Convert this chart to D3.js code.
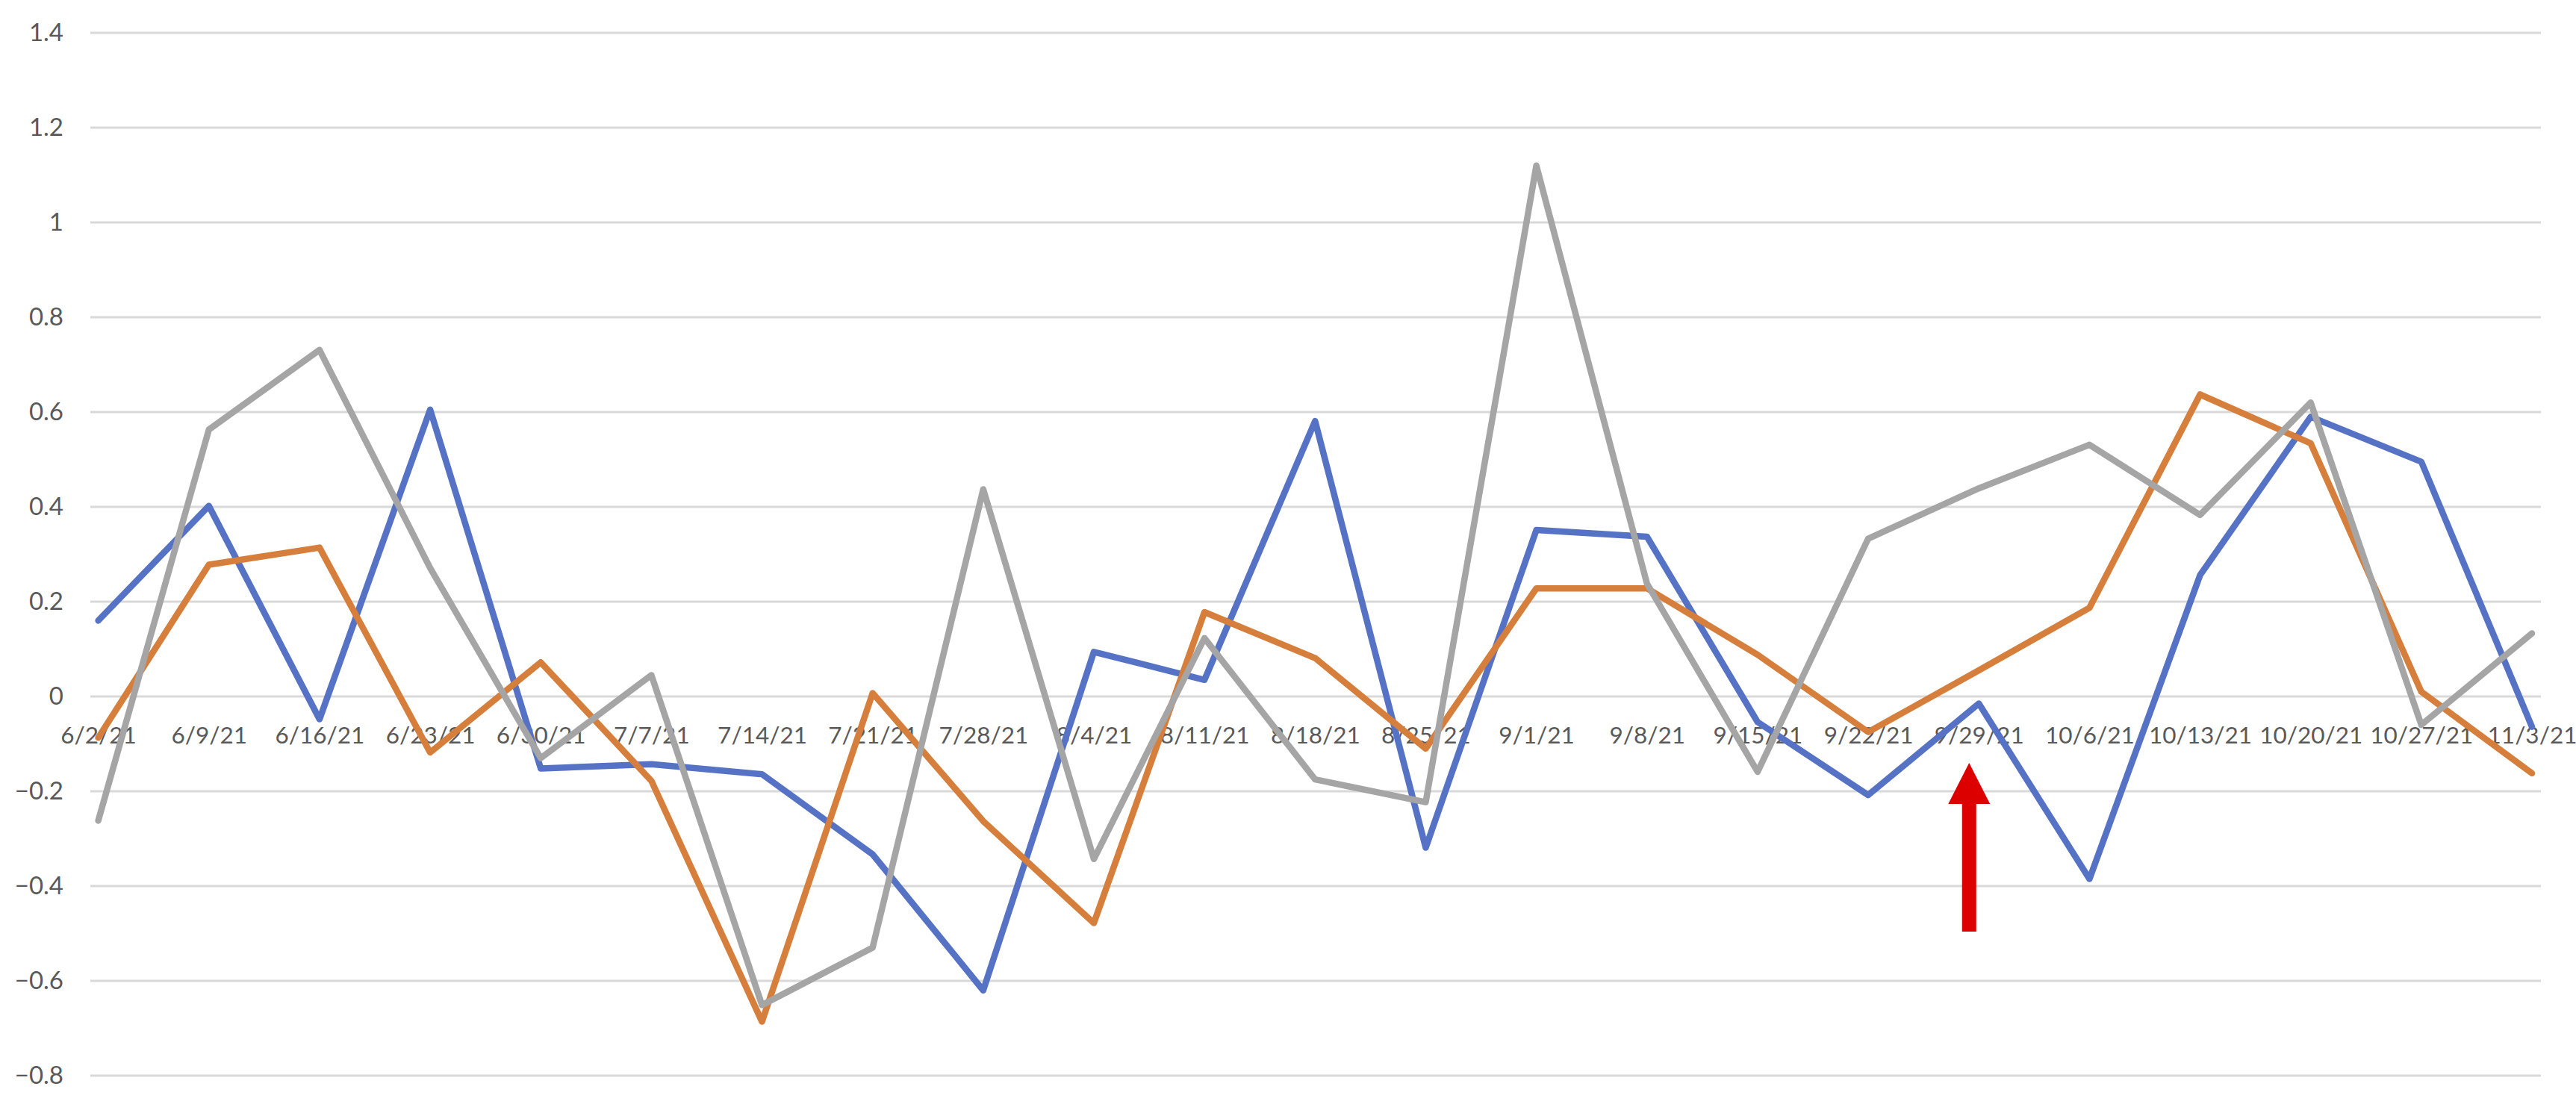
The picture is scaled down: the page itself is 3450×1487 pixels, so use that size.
<!DOCTYPE html>
<html>
<head>
<meta charset="utf-8">
<script src="https://cdn.jsdelivr.net/npm/d3@7"></script>
<style>
  html, body { margin: 0; padding: 0; background: #ffffff; }
  svg { display: block; }
</style>
</head>
<body>
<script>
const categories = ["6/2/21","6/9/21","6/16/21","6/23/21","6/30/21","7/7/21","7/14/21","7/21/21","7/28/21","8/4/21","8/11/21","8/18/21","8/25/21","9/1/21","9/8/21","9/15/21","9/22/21","9/29/21","10/6/21","10/13/21","10/20/21","10/27/21","11/3/21"];

const blueValues   = [0.160, 0.402, -0.048, 0.605, -0.152, -0.143, -0.164, -0.333, -0.620, 0.094, 0.035, 0.581, -0.319, 0.351, 0.337, -0.054, -0.208, -0.015, -0.385, 0.256, 0.590, 0.495, -0.064];
const orangeValues = [-0.087, 0.278, 0.314, -0.118, 0.072, -0.178, -0.686, 0.007, -0.263, -0.478, 0.178, 0.081, -0.110, 0.228, 0.228, 0.088, -0.075, 0.055, 0.187, 0.637, 0.534, 0.010, -0.162];
const grayValues   = [-0.262, 0.563, 0.731, 0.271, -0.130, 0.045, -0.651, -0.530, 0.437, -0.343, 0.123, -0.175, -0.223, 1.120, 0.238, -0.159, 0.333, 0.439, 0.531, 0.383, 0.620, -0.060, 0.133];

const yTicks = [-0.8, -0.6, -0.4, -0.2, 0, 0.2, 0.4, 0.6, 0.8, 1, 1.2, 1.4];

const series = [
  { name: "Series1", values: blueValues,   color: "#5572C4" },
  { name: "Series2", values: orangeValues, color: "#D67E3B" },
  { name: "Series3", values: grayValues,   color: "#A5A5A5" }
];

const W = 3450, H = 1487;
const plotLeft = 121, plotRight = 3403;
const svg = d3.select("body").append("svg").attr("width", W).attr("height", H);

const x = d3.scalePoint().domain(categories).range([131.6, 3391]);
const y = d3.scaleLinear().domain([-0.8, 1.4]).range([1441, 44]);

const font = "Lato, 'Open Sans', sans-serif";

// gridlines
svg.append("g").selectAll("line").data(yTicks).join("line")
  .attr("x1", plotLeft).attr("x2", plotRight)
  .attr("y1", d => y(d)).attr("y2", d => y(d))
  .attr("stroke", "#D9D9D9").attr("stroke-width", 3);

// y axis labels
const yAxis = svg.append("g").attr("transform", `translate(${plotLeft - 36},0)`)
  .call(d3.axisLeft(y).tickValues(yTicks).tickSize(0).tickPadding(0).tickFormat(d => d3.format("")(Math.round(d*10)/10)));
yAxis.select(".domain").remove();
yAxis.selectAll("text").attr("font-family", font).attr("font-size", 33).attr("fill", "#595959");

// x axis labels (at zero line)
const xAxis = svg.append("g").attr("transform", `translate(0,${y(0)})`)
  .call(d3.axisBottom(x).tickSize(0).tickPadding(41));
xAxis.select(".domain").remove();
xAxis.selectAll("text").attr("font-family", font).attr("font-size", 31.5).attr("fill", "#595959");

// lines
const line = d3.line().x((d, i) => x(categories[i])).y(d => y(d));
svg.append("g").selectAll("path").data(series).join("path")
  .attr("d", d => line(d.values))
  .attr("fill", "none")
  .attr("stroke", d => d.color)
  .attr("stroke-width", 8.5)
  .attr("stroke-linejoin", "round")
  .attr("stroke-linecap", "round");

// red annotation arrow
const ax = x("9/29/21") - 13;
const tipY = 1022, headY = 1077, baseY = 1248, headHalf = 28, shaftHalf = 9.5;
svg.append("path")
  .attr("d", `M${ax},${tipY} L${ax + headHalf},${headY} L${ax + shaftHalf},${headY} L${ax + shaftHalf},${baseY} L${ax - shaftHalf},${baseY} L${ax - shaftHalf},${headY} L${ax - headHalf},${headY} Z`)
  .attr("fill", "#DD0000");
</script>
</body>
</html>
